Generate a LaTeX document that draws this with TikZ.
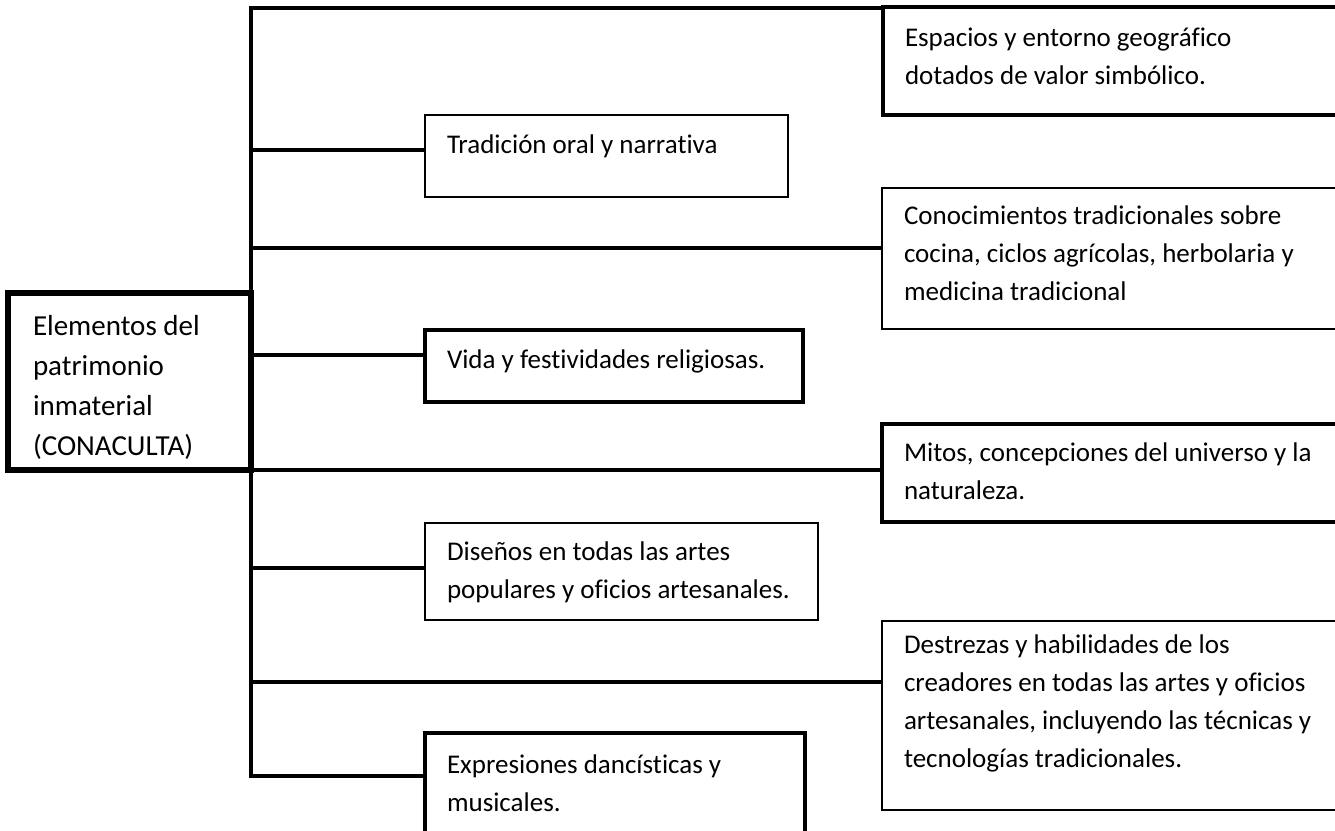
\documentclass[tikz,border=0pt]{standalone}
\usepackage{fontspec}
\setmainfont{Carlito}[Ligatures=NoCommon]
\newcommand\mkbox[6]{\parbox[c][#2][t]{#1}{\vspace*{#3}\raggedright\leftskip=#4\relax #5\rule{0pt}{0.76em}#6}}
\newcommand\fsm{\fontsize{27}{38}\selectfont}
\newcommand\fbig{\fontsize{29}{40}\selectfont}
\tikzset{
  conn/.style={line width=3.2pt},
  bx/.style={draw, inner sep=0pt, outer sep=0pt, anchor=north west},
  thinbox/.style={bx, line width=2pt},
  midbox/.style={bx, line width=2.8pt},
  thickbox/.style={bx, line width=4pt},
  rootbox/.style={bx, line width=5.5pt}
}
\begin{document}
\begin{tikzpicture}[x=1pt,y=-1pt]
\clip (0,0) rectangle (1335,830);
\fill[white] (0,0) rectangle (1335,830);
% nodes
\node[rootbox] (m) at (8,293) {\mkbox{243pt}{177pt}{20pt}{25pt}{\fbig}{Elementos del\\patrimonio\\inmaterial\\(CONACULTA)}};
\node[thickbox] (b1) at (883,7) {\mkbox{470pt}{108pt}{18.5pt}{22pt}{\fsm}{Espacios y entorno geográfico\\dotados de valor simbólico.}};
\node[midbox] (b2) at (425,115) {\mkbox{363pt}{82pt}{17.5pt}{22pt}{\fsm}{Tradición oral y narrativa}};
\node[thinbox] (b3) at (882,188) {\mkbox{470pt}{141pt}{15.5pt}{22pt}{\fsm}{Conocimientos tradicionales sobre\\cocina, ciclos agrícolas, herbolaria y\\medicina tradicional}};
\node[thickbox] (b4) at (425,330) {\mkbox{378pt}{72pt}{17.5pt}{22pt}{\fsm}{Vida y festividades religiosas.}};
\node[thickbox] (b5) at (882,424) {\mkbox{470pt}{98pt}{16.5pt}{22pt}{\fsm}{Mitos, concepciones del universo y la\\naturaleza.}};
\node[midbox] (b6) at (425,523) {\mkbox{393pt}{97pt}{16.5pt}{22pt}{\fsm}{Diseños en todas las artes\\populares y oficios artesanales.}};
\node[thinbox] (b7) at (882,621) {\mkbox{470pt}{189pt}{11.5pt}{22pt}{\fsm}{Destrezas y habilidades de los\\creadores en todas las artes y oficios\\artesanales, incluyendo las técnicas y\\tecnologías tradicionales.}};
\node[thickbox] (b8) at (425,733) {\mkbox{380pt}{120pt}{19.5pt}{22pt}{\fsm}{Expresiones dancísticas y\\musicales.}};
% trunk
\coordinate (tt) at (251,8);
\coordinate (tb) at (251,776);
\draw[conn] (tt -| b1.west) -- (tt) -- (tb) -- (tb -| b8.west);
% branches
\draw[conn] (tt |- 0,150) -- (b2.west |- 0,150);
\draw[conn] (tt |- 0,248) -- (b3.west |- 0,248);
\draw[conn] (tt |- 0,355) -- (b4.west |- 0,355);
\draw[conn] (tt |- 0,470) -- (b5.west |- 0,470);
\draw[conn] (tt |- 0,568) -- (b6.west |- 0,568);
\draw[conn] (tt |- 0,682) -- (b7.west |- 0,682);
\end{tikzpicture}
\end{document}
